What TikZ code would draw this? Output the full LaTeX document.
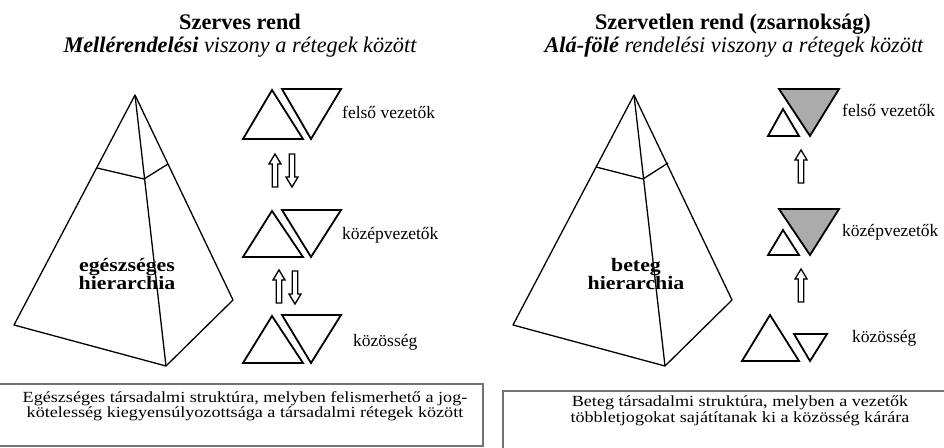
\documentclass[tikz,border=0pt]{standalone}
\usepackage{fontspec}
\setmainfont{Liberation Serif}
\newfontfamily\boxfont[FakeStretch=1.17]{Liberation Serif}
\newfontfamily\hierfont[FakeStretch=1.15]{Liberation Serif}
\begin{document}
\begin{tikzpicture}[x=1pt,y=-1pt,
  tri/.style={draw=black,line width=1.8pt,line join=miter},
  pyr/.style={draw=black,line width=1.3pt,line join=round},
  lbl/.style={anchor=west,inner sep=0pt,font=\fontsize{17.5}{20}\selectfont},
  ttl/.style={anchor=base,inner sep=0pt,font=\fontsize{22.3}{24}\selectfont\bfseries},
  subttl/.style={anchor=base,inner sep=0pt,font=\fontsize{22.3}{24}\selectfont\itshape},
  hier/.style={font=\hierfont\fontsize{19}{17.5}\selectfont\bfseries,align=center,inner sep=0pt},
  boxtxt/.style={font=\boxfont\fontsize{15.5}{15.5}\selectfont,align=center,inner sep=0pt},
  infobox/.style={draw=black!55,line width=1.6pt},
  hollow/.style={draw=black,line width=1.3pt,fill=white,line join=miter},
  gfill/.style={fill=black!33},
  uparrow/.pic={\path[hollow] (-2.8,0) -- (-2.8,-23) -- (-6,-23) -- (0,-33) -- (6,-23) -- (2.8,-23) -- (2.8,0) -- cycle;},
  downarrow/.pic={\path[hollow] (-2.8,0) -- (-2.8,23) -- (-6,23) -- (0,33) -- (6,23) -- (2.8,23) -- (2.8,0) -- cycle;}
]
\useasboundingbox (0,0) rectangle (944,447);
\begin{scope}
\clip (0,0) rectangle (944,447);
% titles
\node[ttl] (t1) at (240,29) {Szerves rend};
\node[subttl] (s1) at (240,52) {\textbf{Mellérendelési} viszony a rétegek között};
\node[ttl] (t2) at (733,29) {Szervetlen rend (zsarnokság)};
\node[subttl] (s2) at (734,52) {\textbf{Alá-fölé} rendelési viszony a rétegek között};

% left pyramid
\coordinate (la) at (135,95);
\coordinate (ll) at (14,325);
\coordinate (lf) at (166,366);
\coordinate (lr) at (233,300);
\coordinate (lcl) at (97,168);
\coordinate (lcm) at (144,179);
\coordinate (lcr) at (168,164);
\draw[pyr] (la) -- (ll) -- (lf) -- (lr) -- cycle;
\draw[pyr] (la) -- (lf);
\draw[pyr] (lcl) -- (lcm) -- (lcr);
\node[hier] (h1) at (127,274) {egészséges\\hierarchia};

% right pyramid
\coordinate (ra) at (634,95);
\coordinate (rl) at (513,325);
\coordinate (rf) at (665,366);
\coordinate (rr) at (732,300);
\coordinate (rcl) at (596,167);
\coordinate (rcm) at (643,179);
\coordinate (rcr) at (668,163);
\draw[pyr] (ra) -- (rl) -- (rf) -- (rr) -- cycle;
\draw[pyr] (ra) -- (rf);
\draw[pyr] (rcl) -- (rcm) -- (rcr);
\node[hier] (h2) at (636,274) {beteg\\hierarchia};

% left triangles
\foreach \yt/\yb in {90/139, 211/257, 316/363}{
  \draw[tri] (272,\yt) -- (303,\yb) -- (243,\yb) -- cycle;
  \draw[tri] (282,\yt-1) -- (341,\yt-1) -- (311,\yb) -- cycle;
}
\node[lbl] (lf1) at (342,112) {felső vezetők};
\node[lbl] (lk1) at (342,235) {középvezetők};
\node[lbl] (lz1) at (353,342) {közösség};
\pic at (275,187) {uparrow};
\pic at (292,154) {downarrow};
\pic at (279,303) {uparrow};
\pic at (295,271) {downarrow};

% right triangles
\foreach \yt/\yb/\ys in {89/136/109, 209/255/230}{
  \draw[tri,gfill] (779,\yt) -- (839,\yt) -- (810,\yb) -- cycle;
  \draw[tri] (783,\ys) -- (799,\yb) -- (768,\yb) -- cycle;
}
\draw[tri] (770,315) -- (799,361) -- (742,361) -- cycle;
\draw[tri] (794,334) -- (827,334) -- (810,361) -- cycle;
\node[lbl] (rf1) at (842,110) {felső vezetők};
\node[lbl] (rk1) at (842,232) {középvezetők};
\node[lbl] (rz1) at (852,338) {közösség};
\pic at (801,183) {uparrow};
\pic at (801,302) {uparrow};

% bottom boxes
\draw[infobox] (-3,384) rectangle (483,446);
\node[boxtxt] (b1) at (245,406) {Egészséges társadalmi struktúra, melyben felismerhető a jog-\\kötelesség kiegyensúlyozottsága a társadalmi rétegek között};
\draw[infobox] (503,391) rectangle (960,460);
\node[boxtxt] (b2) at (740,411) {Beteg társadalmi struktúra, melyben a vezetők\\többletjogokat sajátítanak ki a közösség kárára};
\end{scope}
\end{tikzpicture}
\end{document}
